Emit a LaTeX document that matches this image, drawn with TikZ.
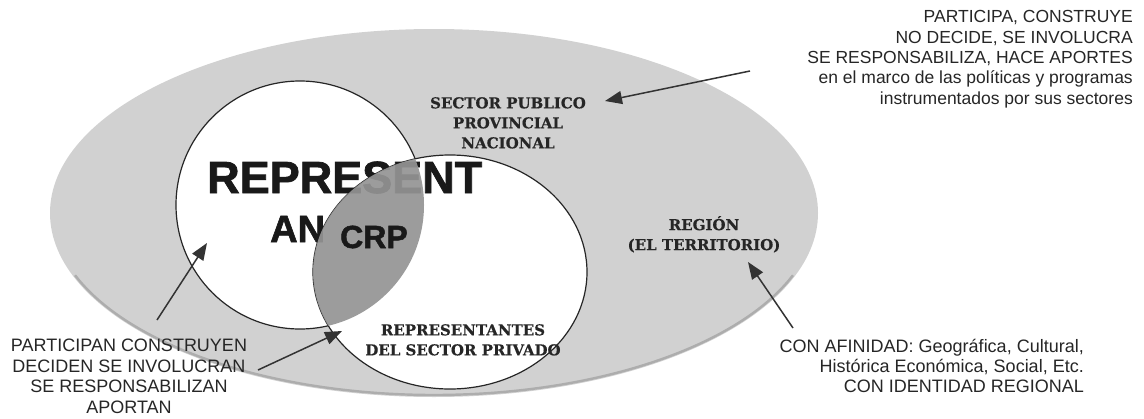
\documentclass[tikz,border=0pt]{standalone}
\usepackage{fontspec}
\setmainfont{Liberation Sans}
\newfontfamily\heavy{Liberation Sans}[BoldFeatures={FakeBold=1.6}]
\newfontfamily\serifb{DejaVu Serif}[BoldFeatures={FakeBold=0.4}]
\usetikzlibrary{arrows.meta}
\begin{document}
\begin{tikzpicture}[x=1pt,y=-1pt,
  region/.style={fill=black!18},
  rim/.style={draw=black!32,line width=2.4pt},
  circ/.style={fill=white,draw=black!85,line width=1.2pt},
  lensfill/.style={fill=black!42,fill opacity=0.92},
  arr/.style={draw=black!80,line width=1.5pt,-{Triangle[length=17pt,width=13pt]}},
  note/.style={inner sep=0pt,text=black!85},
  lbl/.style={inner sep=0pt,align=center,font=\serifb\bfseries\fontsize{15}{20}\selectfont,text=black!85},
  bigt/.style={inner sep=0pt,text=black!90},
]
\useasboundingbox (0,0) rectangle (1144,418);
\fill[white] (0,0) rectangle (1144,418);
% region ellipse
\fill[region] (434,213) ellipse [x radius=384pt, y radius=184pt];
\draw[rim] plot[domain=200:340, samples=80, smooth] ({434+382*cos(\x)}, {213-182*sin(\x)});
% circles
\path[circ] (300,205) circle [radius=124pt];
\path[circ] (450,272) ellipse [x radius=137pt, y radius=117pt];
% big text
\node[bigt,font=\heavy\bfseries\fontsize{45}{50}\selectfont,anchor=base west] (rep) at (207,193) {REPRESENT};
\node[bigt,font=\heavy\bfseries\fontsize{38}{40}\selectfont,anchor=base west] (an) at (270,242) {AN};
% lens
\begin{scope}
  \clip (300,205) circle [radius=124pt];
  \fill[lensfill] (450,272) ellipse [x radius=137pt, y radius=117pt];
\end{scope}
\node[bigt,font=\heavy\bfseries\fontsize{32}{34}\selectfont,anchor=base west] (crp) at (340,248) {CRP};
% labels
\node[lbl,anchor=north] (pub) at (508,97) {SECTOR PUBLICO\\PROVINCIAL\\NACIONAL};
\node[lbl,anchor=north] (reg) at (704,216) {REGIÓN\\(EL TERRITORIO)};
\node[lbl,anchor=north] (priv) at (463,324) {REPRESENTANTES\\DEL SECTOR PRIVADO};
% notes
\node[note,align=right,anchor=north east,font=\fontsize{17.5}{20.3}\selectfont] (ntr) at (1133,10.5)
  {PARTICIPA, CONSTRUYE\\NO DECIDE, SE INVOLUCRA\\SE RESPONSABILIZA, HACE APORTES\\en el marco de las políticas y programas\\instrumentados por sus sectores};
\node[note,align=center,anchor=north,font=\fontsize{18}{20.5}\selectfont] (nbl) at (129,339)
  {PARTICIPAN CONSTRUYEN\\DECIDEN SE INVOLUCRAN\\SE RESPONSABILIZAN\\APORTAN};
\node[note,align=right,anchor=north east,font=\fontsize{18}{20}\selectfont] (nbr) at (1084,339)
  {CON AFINIDAD: Geográfica, Cultural,\\Histórica Económica, Social, Etc.\\CON IDENTIDAD REGIONAL};
% arrows
\coordinate (t1) at (750,71);  \coordinate (h1) at (605,101);
\coordinate (t2) at (157,320); \coordinate (h2) at (207,243);
\coordinate (t3) at (258,370); \coordinate (h3) at (342,331);
\coordinate (t4) at (793,328); \coordinate (h4) at (748,262);
\draw[arr] (t1) -- (h1);
\draw[arr] (t2) -- (h2);
\draw[arr] (t3) -- (h3);
\draw[arr] (t4) -- (h4);
\end{tikzpicture}
\end{document}
